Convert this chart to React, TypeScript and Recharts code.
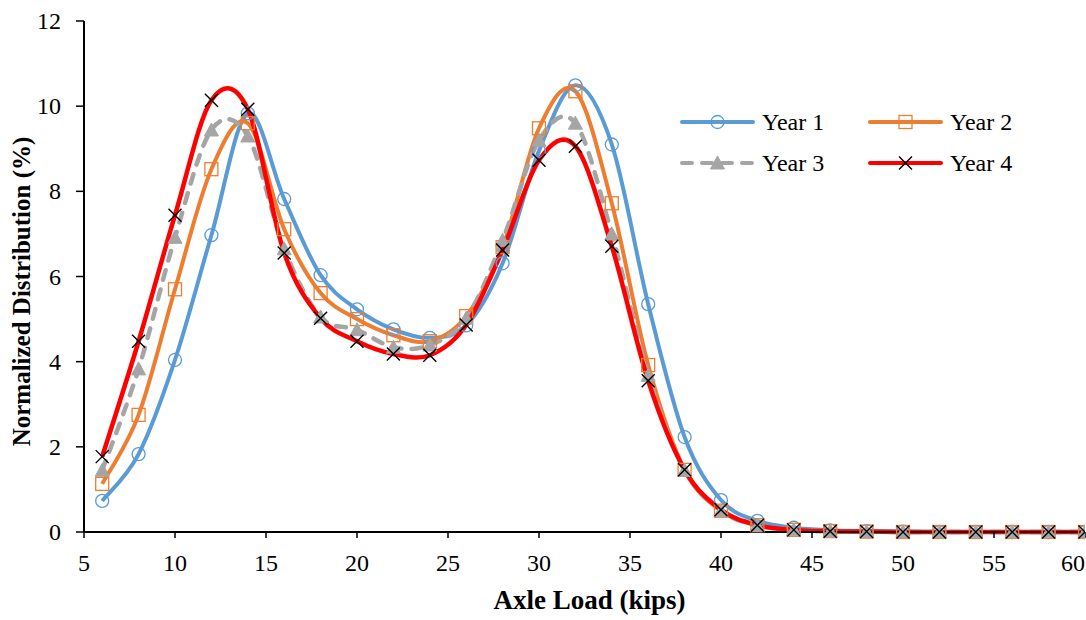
import { Legend, Line, LineChart, XAxis, YAxis, Label } from 'recharts'

const AXLE_LOAD = [6, 8, 10, 12, 14, 16, 18, 20, 22, 24, 26, 28, 30, 32, 34, 36, 38, 40, 42, 44, 46, 48, 50, 52, 54, 56, 58, 60]

const YEAR_1 = [0.73, 1.83, 4.04, 6.97, 9.83, 7.82, 6.03, 5.23, 4.76, 4.56, 4.85, 6.31, 8.95, 10.49, 9.1, 5.35, 2.23, 0.75, 0.26, 0.1, 0.04, 0.02, 0.01, 0, 0, 0, 0, 0]
const YEAR_2 = [1.13, 2.75, 5.7, 8.52, 9.6, 7.11, 5.61, 5.0, 4.62, 4.48, 5.07, 6.69, 9.48, 10.35, 7.72, 3.92, 1.46, 0.5, 0.16, 0.05, 0.02, 0.01, 0, 0, 0, 0, 0, 0]
const YEAR_3 = [1.45, 3.83, 6.92, 9.44, 9.3, 6.65, 5.05, 4.75, 4.34, 4.39, 5.02, 6.85, 9.2, 9.6, 7.0, 3.68, 1.45, 0.5, 0.15, 0.05, 0.02, 0.01, 0, 0, 0, 0, 0, 0]
const YEAR_4 = [1.77, 4.48, 7.44, 10.14, 9.93, 6.55, 5.02, 4.48, 4.18, 4.15, 4.86, 6.62, 8.73, 9.06, 6.71, 3.55, 1.46, 0.52, 0.16, 0.05, 0.02, 0.01, 0, 0, 0, 0, 0, 0]

const X_TICKS = [5, 10, 15, 20, 25, 30, 35, 40, 45, 50, 55, 60]
const Y_TICKS = [0, 2, 4, 6, 8, 10, 12]

const FONT = "'Liberation Serif', 'Times New Roman', serif"
const BLUE = '#5B9BD5'
const ORANGE = '#ED7D31'
const GRAY = '#A5A5A5'
const RED = '#FF0000'

const rows = AXLE_LOAD.map((load, i) => ({
  load,
  y1: YEAR_1[i],
  y2: YEAR_2[i],
  y3: YEAR_3[i],
  y4: YEAR_4[i],
}))

// Excel-style smoothed line: cubic bezier with Catmull-Rom control points
function excelSmooth(context: any) {
  let pts: number[][] = []
  return {
    areaStart() {},
    areaEnd() {},
    lineStart() {
      pts = []
    },
    lineEnd() {
      const n = pts.length
      if (!n) return
      context.moveTo(pts[0][0], pts[0][1])
      for (let i = 0; i < n - 1; i++) {
        const p0 = pts[i - 1] ?? pts[i]
        const p1 = pts[i]
        const p2 = pts[i + 1]
        const p3 = pts[i + 2] ?? p2
        context.bezierCurveTo(
          p1[0] + (p2[0] - p0[0]) / 6,
          p1[1] + (p2[1] - p0[1]) / 6,
          p2[0] - (p3[0] - p1[0]) / 6,
          p2[1] - (p3[1] - p1[1]) / 6,
          p2[0],
          p2[1],
        )
      }
    },
    point(x: number, y: number) {
      pts.push([+x, +y])
    },
  }
}

type Shape = 'circle' | 'square' | 'triangle' | 'cross'

function Marker({ shape, cx, cy }: { shape: Shape; cx: number; cy: number }) {
  if (shape === 'circle')
    return <circle cx={cx} cy={cy} r={6.5} fill="#fff" fillOpacity={0} stroke={BLUE} strokeWidth={1.3} />
  if (shape === 'square')
    return <rect x={cx - 6.5} y={cy - 6.5} width={13} height={13} fill="none" stroke={ORANGE} strokeWidth={1.3} />
  if (shape === 'triangle')
    return <path d={`M${cx},${cy - 7} L${cx + 7},${cy + 6} L${cx - 7},${cy + 6} Z`} fill={GRAY} stroke={GRAY} strokeWidth={1} />
  return (
    <path
      d={`M${cx - 6.5},${cy - 6.5} L${cx + 6.5},${cy + 6.5} M${cx - 6.5},${cy + 6.5} L${cx + 6.5},${cy - 6.5}`}
      stroke="#000"
      strokeWidth={1.4}
    />
  )
}

const dotFor = (shape: Shape) => (p: any) => {
  if (p.cx == null || p.cy == null) return <g key={`${shape}-${p.index}`} />
  return (
    <g key={`${shape}-${p.index}`}>
      <Marker shape={shape} cx={p.cx} cy={p.cy} />
    </g>
  )
}

// last label sits on the right edge, keep it inside the picture
const XTick = ({ x, y, payload }: any) => {
  const last = payload.value === X_TICKS[X_TICKS.length - 1]
  return (
    <text
      x={last ? 1085 : x}
      y={y}
      dy={33}
      textAnchor={last ? 'end' : 'middle'}
      fontFamily={FONT}
      fontSize={24}
      fill="#000"
    >
      {payload.value}
    </text>
  )
}

const YTick = ({ x, y, payload }: any) => (
  <text x={x} y={y} dy={8} textAnchor="end" fontFamily={FONT} fontSize={24} fill="#000">
    {payload.value}
  </text>
)

const LEGEND_ITEMS: { label: string; color: string; shape: Shape; dashed?: boolean; col: number; row: number }[] = [
  { label: 'Year 1', color: BLUE, shape: 'circle', col: 0, row: 0 },
  { label: 'Year 2', color: ORANGE, shape: 'square', col: 1, row: 0 },
  { label: 'Year 3', color: GRAY, shape: 'triangle', dashed: true, col: 0, row: 1 },
  { label: 'Year 4', color: RED, shape: 'cross', col: 1, row: 1 },
]

function LegendBox() {
  return (
    <svg width={400} height={90} style={{ display: 'block' }}>
      {LEGEND_ITEMS.map((it) => {
        const x0 = 22 + it.col * 188
        const y = 22 + it.row * 41
        return (
          <g key={it.label}>
            <line
              x1={x0}
              y1={y}
              x2={x0 + 71}
              y2={y}
              stroke={it.color}
              strokeWidth={4}
              strokeLinecap="round"
              strokeDasharray={it.dashed ? '10 10' : undefined}
            />
            <Marker shape={it.shape} cx={x0 + 35.5} cy={y} />
            <text x={x0 + 80} y={y + 8} fontFamily={FONT} fontSize={24} fill="#000">
              {it.label}
            </text>
          </g>
        )
      })}
    </svg>
  )
}

export default function App() {
  return (
    <div style={{ position: 'absolute', left: 0, top: 0, width: 1086, height: 620, overflow: 'hidden', background: '#fff' }}>
      <LineChart width={1086} height={620} data={rows} margin={{ top: 21, right: 1, left: 0, bottom: 0 }}>
        <XAxis
          dataKey="load"
          type="number"
          domain={[5, 60]}
          ticks={X_TICKS}
          interval={0}
          height={88}
          tickSize={6}
          tickMargin={0}
          tick={<XTick />}
          axisLine={{ stroke: '#000', strokeWidth: 2 }}
          tickLine={{ stroke: '#000', strokeWidth: 1.5 }}
          allowDataOverflow
        >
          <Label
            content={({ viewBox }: any) => (
              <text
                x={viewBox.x + viewBox.width / 2 + 5}
                y={viewBox.y + 77}
                textAnchor="middle"
                fontFamily={FONT}
                fontSize={27}
                fontWeight="bold"
                fill="#000"
              >
                Axle Load (kips)
              </text>
            )}
          />
        </XAxis>
        <YAxis
          type="number"
          domain={[0, 12]}
          ticks={Y_TICKS}
          interval={0}
          width={84}
          tickSize={8}
          tickMargin={15}
          tick={<YTick />}
          axisLine={{ stroke: '#000', strokeWidth: 2 }}
          tickLine={{ stroke: '#000', strokeWidth: 1.5 }}
        >
          <Label
            content={({ viewBox }: any) => {
              const cy = viewBox.y + viewBox.height / 2 + 15
              return (
                <text
                  x={30}
                  y={cy}
                  transform={`rotate(-90, 30, ${cy})`}
                  textAnchor="middle"
                  fontFamily={FONT}
                  fontSize={25}
                  fontWeight="bold"
                  fill="#000"
                >
                  Normalized Distribution (%)
                </text>
              )
            }}
          />
        </YAxis>
        <Legend
          layout="vertical"
          align="center"
          verticalAlign="middle"
          content={() => <LegendBox />}
          wrapperStyle={{ position: 'absolute', left: 660, top: 100, width: 400, height: 90 }}
        />
        <Line dataKey="y1" type={excelSmooth as any} stroke={BLUE} strokeWidth={4} dot={dotFor('circle')} activeDot={false} isAnimationActive={false} />
        <Line dataKey="y2" type={excelSmooth as any} stroke={ORANGE} strokeWidth={4} dot={dotFor('square')} activeDot={false} isAnimationActive={false} />
        <Line
          dataKey="y3"
          type={excelSmooth as any}
          stroke={GRAY}
          strokeWidth={4.5}
          strokeDasharray="10 10"
          strokeLinecap="round"
          dot={dotFor('triangle')}
          activeDot={false}
          isAnimationActive={false}
        />
        <Line dataKey="y4" type={excelSmooth as any} stroke={RED} strokeWidth={4.5} dot={dotFor('cross')} activeDot={false} isAnimationActive={false} />
      </LineChart>
    </div>
  )
}
